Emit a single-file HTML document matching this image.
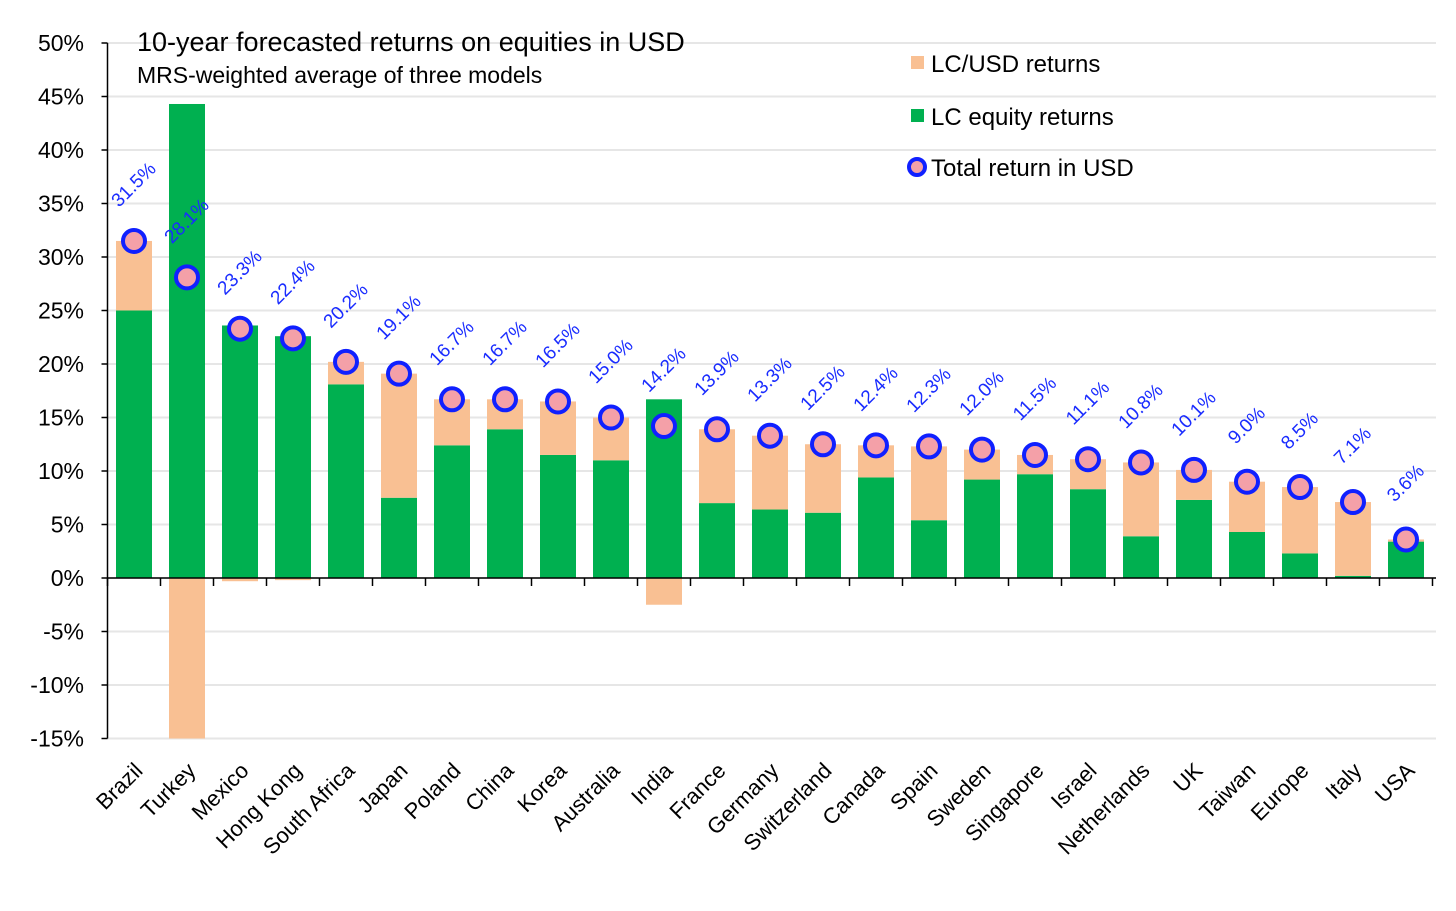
<!DOCTYPE html>
<html><head><meta charset="utf-8"><style>
html,body{margin:0;padding:0;background:#fff;}
svg{display:block;font-family:"Liberation Sans",sans-serif;}
</style></head><body>
<svg id="chart" width="1456" height="911"></svg>
<script>
const categories=["Brazil","Turkey","Mexico","Hong Kong","South Africa","Japan","Poland","China","Korea","Australia","India","France","Germany","Switzerland","Canada","Spain","Sweden","Singapore","Israel","Netherlands","UK","Taiwan","Europe","Italy","USA"];
const lcEquity=[25.0,44.3,23.6,22.6,18.1,7.5,12.4,13.9,11.5,11.0,16.7,7.0,6.4,6.1,9.4,5.4,9.2,9.7,8.3,3.9,7.3,4.3,2.3,0.2,3.4];
const lcUsd=[6.5,-16.2,-0.3,-0.2,2.1,11.6,4.3,2.8,5.0,4.0,-2.5,6.9,6.9,6.4,3.0,6.9,2.8,1.8,2.8,6.9,2.8,4.7,6.2,6.9,0.2];
const totalUsd=[31.5,28.1,23.3,22.4,20.2,19.1,16.7,16.7,16.5,15.0,14.2,13.9,13.3,12.5,12.4,12.3,12.0,11.5,11.1,10.8,10.1,9.0,8.5,7.1,3.6];
const yTicks=[50,45,40,35,30,25,20,15,10,5,0,-5,-10,-15];

const NS="http://www.w3.org/2000/svg";
const svg=document.getElementById('chart');
const x0=107.5,band=53,yMin=-15,yMax=50,yTop=43,yBot=738.5;
function y(v){return yBot-(v-yMin)/(yMax-yMin)*(yBot-yTop);}
function xc(i){return x0+band*(i+0.5);}
function clamp(v){return Math.max(yMin,Math.min(yMax,v));}
function el(tag,attrs,parent){const e=document.createElementNS(NS,tag);for(const k in attrs)e.setAttribute(k,attrs[k]);(parent||svg).appendChild(e);return e;}

yTicks.forEach(t=>{
  const g=el('line',{x1:x0,x2:1436,y1:y(t),y2:y(t),stroke:'#e6e6e6','stroke-width':2});
  
  
  const tk=el('line',{x1:x0-6,x2:x0,y1:y(t),y2:y(t),stroke:'#000','stroke-width':1.5});
  
  
  const tx=el('text',{x:84,y:y(t)+8,'text-anchor':'end','font-size':23,fill:'#000'});
  tx.textContent=t+'%';
  
  
});

categories.forEach((c,i)=>{
  const w=36,xl=xc(i)-w/2;
  const g=lcEquity[i];
  const gb=el('rect',{x:xl,width:w,y:Math.min(y(g),y(0)),height:Math.abs(y(g)-y(0)),fill:'#00b050'});
  
  
  const o=lcUsd[i];
  let a,b;
  if(o>=0){a=g;b=g+o;} else {a=0;b=o;}
  a=clamp(a);b=clamp(b);
  const ob=el('rect',{x:xl,width:w,y:Math.min(y(a),y(b)),height:Math.abs(y(a)-y(b)),fill:'#f9c093'});
  
  
});

const ya=el('line',{x1:x0,x2:x0,y1:yTop,y2:yBot,stroke:'#000','stroke-width':1.5});


const xa=el('line',{x1:x0,x2:1436,y1:y(0),y2:y(0),stroke:'#000','stroke-width':1.5});


for(let i=0;i<=categories.length;i++){
  const t=el('line',{x1:x0+band*i,x2:x0+band*i,y1:y(0),y2:y(0)+8,stroke:'#000','stroke-width':1.5});
  
  
}

categories.forEach((c,i)=>{
  const v=totalUsd[i];
  const m=el('circle',{cx:xc(i),cy:y(v),r:11,fill:'#f4a0a8',stroke:'#1020ff','stroke-width':4});
  
  
  const lx=xc(i)+4,ly=y(v)-52;
  const t=el('text',{x:lx,y:ly,'text-anchor':'middle','font-size':19,fill:'#1a2cff',transform:`rotate(-45 ${lx} ${ly})`});
  t.textContent=v.toFixed(1)+'%';
  
  
  const cx=xc(i)+10,cy=772;
  const cl=el('text',{x:cx,y:cy,'text-anchor':'end','font-size':22,fill:'#000',transform:`rotate(-45 ${cx} ${cy})`});
  cl.textContent=c;
  
  
});

const t1=el('text',{x:137,y:51,'font-size':27,fill:'#000'});t1.textContent='10-year forecasted returns on equities in USD';


const t2=el('text',{x:137,y:83,'font-size':23,fill:'#000'});t2.textContent='MRS-weighted average of three models';



const l1=el('rect',{x:911,y:56,width:13,height:13,fill:'#f9c093'});


const l1t=el('text',{x:931,y:72,'font-size':24,fill:'#000'});l1t.textContent='LC/USD returns';


const l2=el('rect',{x:911,y:109,width:13,height:13,fill:'#00b050'});


const l2t=el('text',{x:931,y:125,'font-size':24,fill:'#000'});l2t.textContent='LC equity returns';


const l3=el('circle',{cx:917,cy:167,r:8,fill:'#f4a0a8',stroke:'#1020ff','stroke-width':4});


const l3t=el('text',{x:931,y:176,'font-size':24,fill:'#000'});l3t.textContent='Total return in USD';


</script>
</body></html>
